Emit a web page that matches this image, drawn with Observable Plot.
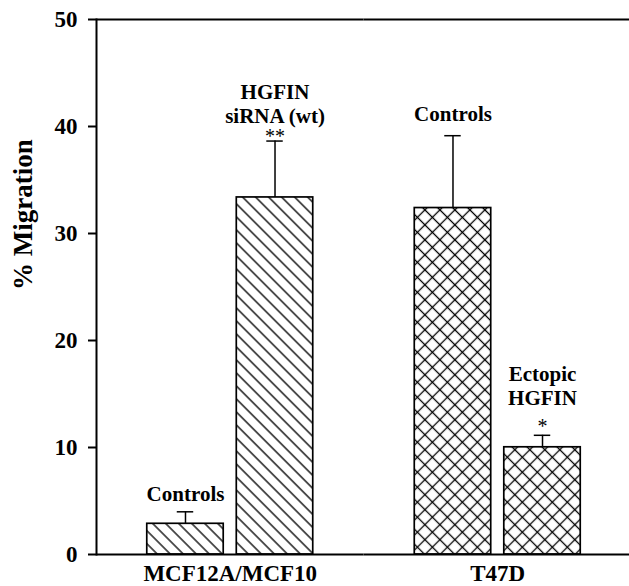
<!DOCTYPE html>
<html><head><meta charset="utf-8">
<script src="https://cdn.jsdelivr.net/npm/d3@7"></script>
<script src="https://cdn.jsdelivr.net/npm/@observablehq/plot@0.6"></script>
<style>html,body{margin:0;padding:0;background:#fff;overflow:hidden} svg{display:block}</style>
</head><body><div id="chart"></div>
<script>
// ---- data ----
const cellLines = ["MCF12A/MCF10", "MCF12A/MCF10", "T47D", "T47D"];
const roles = ["Control", "Treatment", "Control", "Treatment"];
const labels = ["Controls", "HGFIN\nsiRNA (wt)", "Controls", "Ectopic\nHGFIN"];
const stars = ["", "**", "", "*"];
const migration = [2.87, 33.37, 32.38, 10.02];
const sem = [1.12, 5.27, 6.76, 1.12];
const hatch = ["diag", "diag", "cross", "cross"];
const yTicks = [0, 10, 20, 30, 40, 50];
const groupOrder = ["MCF12A/MCF10", "T47D"];
const yLabel = "% Migration";

const rows = migration.map((v, i) => ({
  cell: cellLines[i], role: roles[i], label: labels[i], star: stars[i],
  value: v, top: v + sem[i], hatch: hatch[i]
}));

// styling (not data)
const labelDy = [-11, -18.5, -14.5, -30.5];
const starDy = [0, 2, 0, -2.5];
const serif = "'Liberation Serif', 'Times New Roman', serif";

const labelMarks = rows.map((r, i) => Plot.text([r], {
  fx: "cell", x: "role", y: "top", text: "label",
  lineAnchor: "bottom", lineHeight: 1.14, dy: labelDy[i],
  fontSize: 21, fontWeight: "bold", fontFamily: serif, fill: "black"
}));
const starMarks = rows.filter(r => r.star).map((r) => Plot.text([r], {
  fx: "cell", x: "role", y: "top", text: "star",
  lineAnchor: "bottom", dy: starDy[rows.indexOf(r)],
  fontSize: 20, fontWeight: "normal", fontFamily: serif, fill: "black"
}));

const chart = Plot.plot({
  width: 629, height: 586,
  marginLeft: 96, marginRight: -2, marginTop: 19, marginBottom: 32,
  style: {fontFamily: serif, background: "white", color: "black", overflow: "visible"},
  fx: {domain: groupOrder, paddingInner: 0, paddingOuter: 0, round: false, label: null},
  x: {domain: ["Control", "Treatment"], paddingInner: 0.146, paddingOuter: 0.567, round: false, axis: null},
  y: {domain: [0, 50], axis: null},
  marks: [
    Plot.barY(rows, {fx: "cell", x: "role", y: "value", filter: d => d.hatch === "diag",
      fill: "url(#diag)", stroke: "black", strokeWidth: 1.7}),
    Plot.barY(rows, {fx: "cell", x: "role", y: "value", filter: d => d.hatch === "cross",
      fill: "url(#cross)", stroke: "black", strokeWidth: 1.7}),
    Plot.ruleX(rows, {fx: "cell", x: "role", y1: "value", y2: "top", strokeWidth: 1.5}),
    Plot.tickY(rows, {fx: "cell", x: "role", y: "top", insetLeft: 30, insetRight: 30, strokeWidth: 1.5}),
    Plot.ruleY([0, 50], {strokeWidth: 2}),
    Plot.frame({anchor: "left", facetAnchor: "left", strokeWidth: 2}),
    Plot.axisY(yTicks, {anchor: "left", tickSize: 8, tickPadding: 11, strokeWidth: 2,
      fontSize: 23, fontWeight: "bold", label: null}),
    Plot.axisFx({anchor: "bottom", tickSize: 0, tickPadding: 10,
      fontSize: 23, fontWeight: "bold", label: null}),
    Plot.text([yLabel], {fx: [groupOrder[0]], frameAnchor: "left", rotate: -90, dx: -73, dy: 3,
      fontSize: 27, fontWeight: "bold", fontFamily: serif, fill: "black"}),
    ...labelMarks,
    ...starMarks
  ]
});

// hatch pattern definitions
const defs = d3.select(chart).insert("defs", ":first-child");
const dW = 9.2;
const pd = defs.append("pattern").attr("id", "diag").attr("patternUnits", "userSpaceOnUse")
  .attr("width", dW).attr("height", dW).attr("patternTransform", "rotate(-45)");
pd.append("rect").attr("width", dW).attr("height", dW).attr("fill", "white");
pd.append("line").attr("x1", dW / 2).attr("x2", dW / 2).attr("y1", -1).attr("y2", dW + 1)
  .attr("stroke", "black").attr("stroke-width", 1.3);
const cW = 10.6;
const pc = defs.append("pattern").attr("id", "cross").attr("patternUnits", "userSpaceOnUse")
  .attr("width", cW).attr("height", cW).attr("patternTransform", "rotate(45)");
pc.append("rect").attr("width", cW).attr("height", cW).attr("fill", "white");
pc.append("line").attr("x1", cW / 2).attr("x2", cW / 2).attr("y1", -1).attr("y2", cW + 1)
  .attr("stroke", "black").attr("stroke-width", 1.3);
pc.append("line").attr("y1", cW / 2).attr("y2", cW / 2).attr("x1", -1).attr("x2", cW + 1)
  .attr("stroke", "black").attr("stroke-width", 1.3);

document.getElementById("chart").appendChild(chart);
</script>
</body></html>
